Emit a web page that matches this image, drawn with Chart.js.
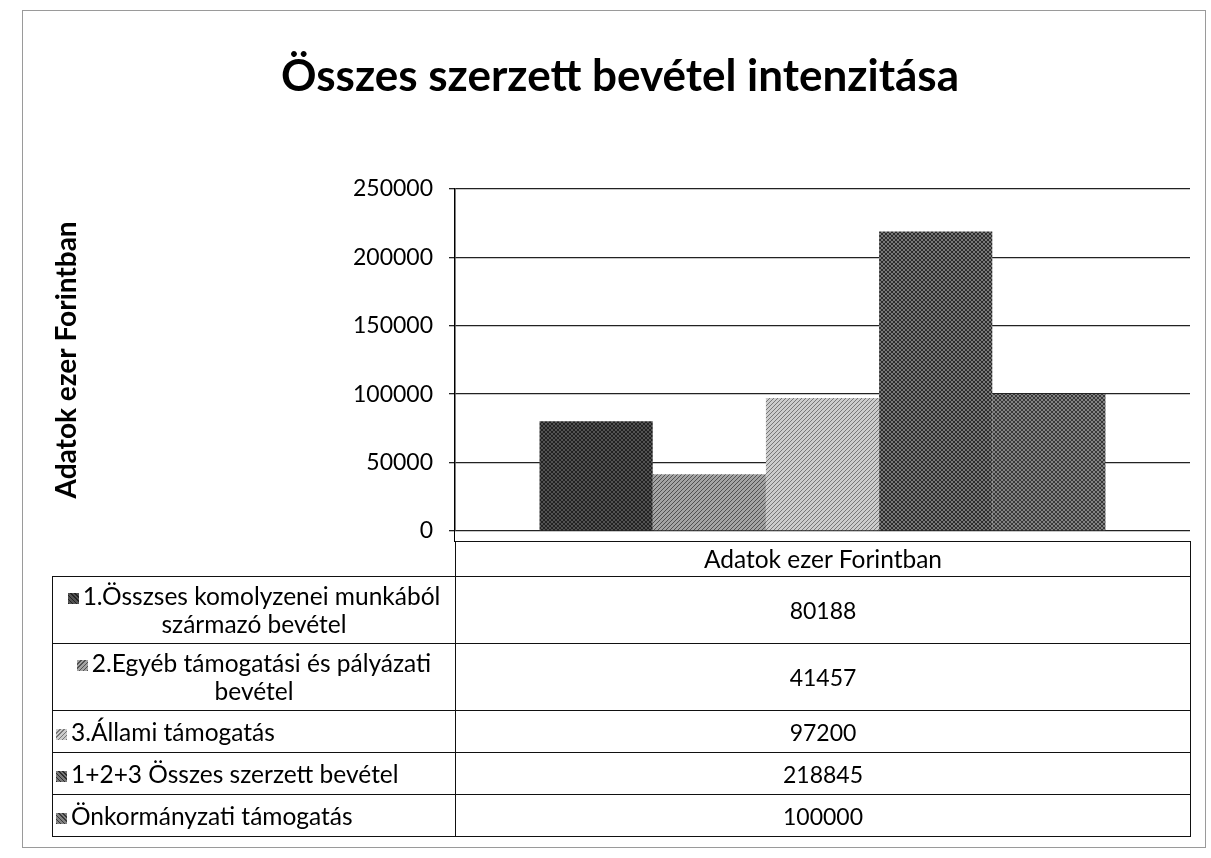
<!DOCTYPE html>
<html lang="hu">
<head>
<meta charset="utf-8">
<title>Összes szerzett bevétel intenzitása</title>
<script src="https://cdn.jsdelivr.net/npm/chart.js@4.4.1/dist/chart.umd.min.js"></script>
<style>
    html, body { margin: 0; padding: 0; background: #fff; }
    #wrap { position: relative; width: 1211px; height: 858px; overflow: hidden; }
    #frame { position: absolute; left: 22px; top: 10px; width: 1182px; height: 836px; border: 1px solid #9a9a9a; }
    #chart { position: absolute; left: 0; top: 0; }
    #axisStub { position: absolute; width: 0; border-left: 1.5px solid #000; }
    #dataTable {
        position: absolute;
        border-collapse: collapse;
        font-family: Lato, "Open Sans", sans-serif;
        font-size: 24.5px;
        color: #000;
        table-layout: fixed;
    }
    #dataTable td { border: 1.5px solid #111; padding: 5px 3px; line-height: 28px; height: 42px; box-sizing: border-box; }
    #dataTable td.blank { border: none; height: 35px; padding: 0; }
    #dataTable td.head { text-align: center; height: 35px; padding: 2px 3px; }
    #dataTable td.lab { text-align: left; }
    #dataTable td.lab.wrap { text-align: center; }
    #dataTable td.val { text-align: center; font-size: 23px; }
    .key { display: inline-block; width: 11px; height: 11px; margin-right: 4px; vertical-align: 1px; }
</style>
</head>
<body>
<div id="wrap">
    <div id="frame"></div>
    <canvas id="chart" width="1211" height="858"></canvas>
    <div id="axisStub"></div>
    <table id="dataTable"></table>
</div>
<script>
// ----------- DATA -----------
const categories = ["Adatok ezer Forintban"];
const seriesNames = [
    "1.Összses komolyzenei munkából származó bevétel",
    "2.Egyéb támogatási és pályázati bevétel",
    "3.Állami támogatás",
    "1+2+3 Összes szerzett bevétel",
    "Önkormányzati támogatás"
];
const seriesValues = [80188, 41457, 97200, 218845, 100000];
const yTicks = [0, 50000, 100000, 150000, 200000, 250000];

const chartTitle = "Összes szerzett bevétel intenzitása";
const yAxisTitle = "Adatok ezer Forintban";

// hatched greys, like the printed Excel fills
const fillStyles = [
    { base: "#525252", line: "#222222", step: 4, cross: true },
    { base: "#a4a4a4", line: "#505050", step: 4, cross: false },
    { base: "#cccccc", line: "#777777", step: 4, cross: false },
    { base: "#787878", line: "#2c2c2c", step: 4, cross: true },
    { base: "#828282", line: "#383838", step: 4, cross: true }
];

function makePattern(s) {
    const c = document.createElement("canvas");
    c.width = s.step;
    c.height = s.step;
    const g = c.getContext("2d");
    g.fillStyle = s.base;
    g.fillRect(0, 0, s.step, s.step);
    g.strokeStyle = s.line;
    g.lineWidth = 1;
    g.beginPath();
    g.moveTo(-1, s.step + 1);
    g.lineTo(s.step + 1, -1);
    if (s.cross) {
        g.moveTo(-1, -1);
        g.lineTo(s.step + 1, s.step + 1);
    }
    g.stroke();
    return g.createPattern(c, "repeat");
}

function cssFill(s) {
    const dir = s.cross ? "45deg" : "-45deg";
    return `repeating-linear-gradient(${dir}, ${s.line} 0 1px, ${s.base} 1px 3px)`;
}

const FONT = "Lato, 'Open Sans', sans-serif";

const datasets = seriesNames.map((name, i) => ({
    label: name,
    data: [seriesValues[i]],
    backgroundColor: makePattern(fillStyles[i]),
    borderWidth: 0,
    categoryPercentage: 0.77,
    barPercentage: 1.0
}));

// ----------- CHART -----------
const ctx = document.getElementById("chart");
const chart = new Chart(ctx, {
    type: "bar",
    data: { labels: categories, datasets: datasets },
    options: {
        responsive: false,
        animation: false,
        layout: { padding: { left: 50, right: 21, top: 0, bottom: 319 } },
        scales: {
            x: {
                grid: { display: false },
                border: { display: false },
                ticks: { display: false }
            },
            y: {
                min: yTicks[0],
                max: yTicks[yTicks.length - 1],
                afterBuildTicks: (scale) => {
                    scale.ticks = yTicks.map(v => ({ value: v }));
                },
                afterFit: (scale) => { scale.width = 405; },
                ticks: {
                    color: "#000",
                    font: { family: FONT, size: 23 },
                    padding: 16,
                    callback: (v) => String(v)
                },
                grid: { color: "#222", lineWidth: 1.3, tickLength: 6 },
                border: { color: "#000", width: 1.5 },
                title: {
                    display: true,
                    text: yAxisTitle,
                    color: "#000",
                    font: { family: FONT, size: 28, weight: "bold" },
                    padding: { top: 0, bottom: 0 }
                }
            }
        },
        plugins: {
            legend: { display: false },
            tooltip: { enabled: false },
            title: {
                display: true,
                text: chartTitle,
                color: "#000",
                font: { family: FONT, size: 44, weight: "bold" },
                padding: { top: 50, bottom: 86 }
            }
        }
    }
});

// ----------- DATA TABLE -----------
const area = chart.chartArea;
const tableTop = area.bottom + 10;
const tableLeft = 52;

const stub = document.getElementById("axisStub");
stub.style.left = (area.left - 0.75) + "px";
stub.style.top = area.bottom + "px";
stub.style.height = (tableTop - area.bottom + 1) + "px";

const tbl = document.getElementById("dataTable");
tbl.style.left = tableLeft + "px";
tbl.style.top = tableTop + "px";
tbl.style.width = (area.right - tableLeft) + "px";

let rows = `<colgroup><col style="width:${area.left - tableLeft}px"><col style="width:${area.right - area.left}px"></colgroup>`;
rows += `<tr><td class="blank"></td><td class="head">${categories[0]}</td></tr>`;
seriesNames.forEach((name, i) => {
    const wrap = name.length > 32 ? " wrap" : "";
    rows += `<tr>
        <td class="lab${wrap}"><span class="key" style="background:${cssFill(fillStyles[i])}"></span>${name}</td>
        <td class="val">${seriesValues[i]}</td>
    </tr>`;
});
tbl.innerHTML = rows;
</script>
</body>
</html>
